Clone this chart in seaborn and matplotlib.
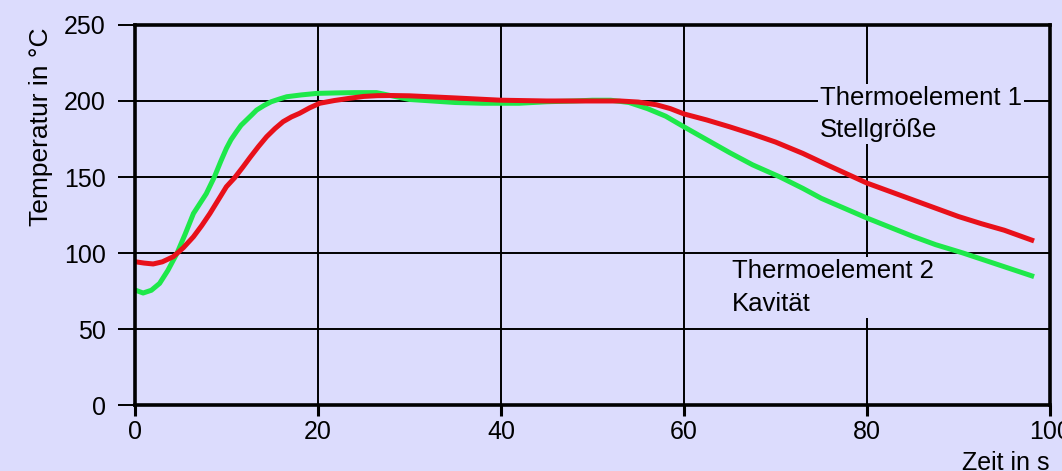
import matplotlib
matplotlib.use("Agg")
import matplotlib.pyplot as plt
import pandas as pd
import seaborn as sns

# Thermoelement 1 (Stellgröße) - red
t_red = [0, 1, 2, 3, 4.2, 5.3, 6.4, 7.3, 8.2, 9.1, 10, 10.9, 11.8, 12.6, 13.5, 14.4,
         15.3, 16.2, 17.1, 18, 19.1, 20.2, 21.8, 23.5, 25, 26.5, 28, 30, 35, 40, 45,
         50, 53, 55, 57, 58.5, 60, 62.5, 65, 67.5, 70, 73, 76, 78, 80, 82.5, 85, 87.5,
         90, 92.5, 95, 98]
temp_red = [94.3, 93.4, 92.8, 94.2, 97.6, 103.5, 110.7, 118, 126, 134.8, 143.6, 149.5,
            156.5, 163, 170, 176.5, 181.8, 186.4, 189.5, 191.9, 195.5, 198.5, 200.3,
            201.8, 203, 203.5, 203.6, 203.4, 202, 200.5, 200, 200, 200, 199.3, 197.5,
            195, 191.5, 187.5, 183, 178.2, 173, 165.5, 157, 151.5, 146, 140.5, 135,
            129.5, 124, 119.3, 115, 108.5]

# Thermoelement 2 (Kavität) - green
t_green = [0, 0.9, 1.8, 2.7, 3.6, 4.6, 5.5, 6.4, 7.1, 7.8, 8.7, 9.4, 10, 10.5, 11.1,
           11.6, 12.2, 12.8, 13.3, 14.1, 14.9, 15.8, 16.6, 18.2, 19.9, 22, 24, 26.4,
           28, 30, 33, 35, 38, 42, 45, 48, 50, 52, 54, 56, 58, 60, 62.5, 65, 67.5,
           70.5, 73, 75, 77.5, 80, 82.5, 85, 87.5, 90.5, 93, 95, 98]
temp_green = [75.7, 73.7, 75.5, 80, 88.5, 99.8, 112.5, 126, 132.5, 139, 150.2, 160.5,
              168.8, 174.5, 179.8, 184, 187.5, 191, 194, 197, 199.5, 201.3, 202.8,
              204, 205, 205.3, 205.5, 205.5, 203.5, 201, 199.8, 199, 198.5, 198.5,
              199.5, 200, 200.5, 200.5, 199, 195, 190, 183, 174.5, 166, 158, 150,
              142.5, 136, 129.5, 123, 117, 111, 105.5, 100, 95, 91, 85]

x_ticks = [0, 20, 40, 60, 80, 100]
y_ticks = [0, 50, 100, 150, 200, 250]

df_red = pd.DataFrame({'t': t_red, 'T': temp_red})
df_green = pd.DataFrame({'t': t_green, 'T': temp_green})

bg = '#dcdcfd'
plt.rcParams['font.family'] = ['Liberation Sans', 'DejaVu Sans']

fig = plt.figure(figsize=(10.62, 4.71), dpi=100, facecolor=bg)
ax = fig.add_axes([0.127, 0.140, 0.8617, 0.807])
ax.set_facecolor(bg)

sns.lineplot(data=df_green, x='t', y='T', color='#1ee84a', lw=3.6, sort=False,
             estimator=None, ax=ax, zorder=3)
sns.lineplot(data=df_red, x='t', y='T', color='#e8101a', lw=3.6, sort=False,
             estimator=None, ax=ax, zorder=4)

ax.set_xlim(0, 100)
ax.set_ylim(0, 250)
ax.set_xticks(x_ticks)
ax.set_yticks(y_ticks)
ax.grid(True, color='black', lw=1.4, zorder=1)
ax.set_axisbelow(True)

for s in ax.spines.values():
    s.set_linewidth(2.6)
    s.set_color('black')
    s.set_zorder(5)

fs = 18
ax.tick_params(axis='y', length=12, width=1.4, pad=9, labelsize=fs)
ax.tick_params(axis='x', length=8, width=2.2, pad=3, labelsize=fs)

ax.set_xlabel('Zeit in s', fontsize=fs, loc='right')
ax.xaxis.set_label_coords(1.0, -0.122)
ax.set_ylabel('Temperatur in °C', fontsize=19, loc='top')
ax.yaxis.set_label_coords(-0.09, 0.993)

box = dict(facecolor=bg, edgecolor='none', pad=1.5)
ax.text(74.9, 210, 'Thermoelement 1\nStellgröße', fontsize=18.5, ha='left', va='top',
        linespacing=1.45, bbox=box, zorder=6)
ax.text(65.2, 96, 'Thermoelement 2\nKavität', fontsize=18.5, ha='left', va='top',
        linespacing=1.45, bbox=box, zorder=6)

fig.savefig('out.png', dpi=100, facecolor=bg)
